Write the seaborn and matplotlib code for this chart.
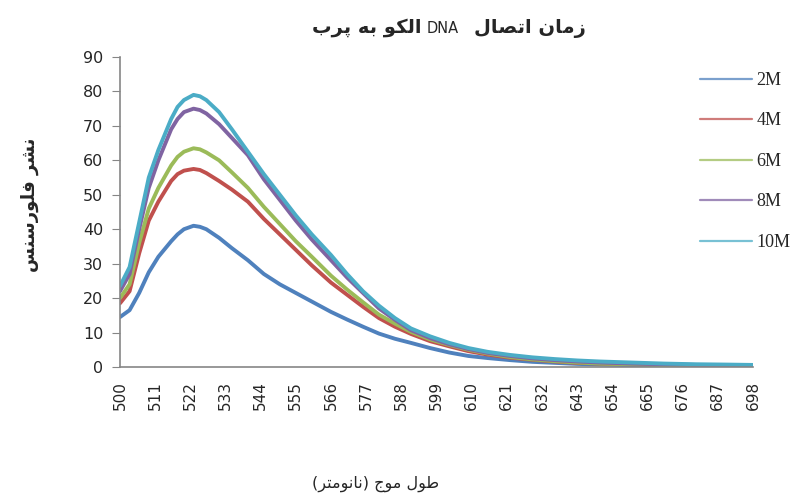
import re
import matplotlib
matplotlib.use("Agg")
import matplotlib.pyplot as plt
import seaborn as sns
import pandas as pd

wavelength = [500, 503, 506, 509, 512, 516, 518, 520, 523, 525, 527, 531, 535, 540, 545, 550,
              555, 560, 566, 571, 576, 581, 586, 591, 597, 603, 609, 615, 622, 629,
              636, 643, 650, 660, 670, 680, 690, 698]

m2 = [14.5, 16.5, 21.5, 27.5, 32, 36.5, 38.5, 40, 41, 40.7, 40, 37.5, 34.5, 31, 27, 24,
      21.5, 19, 16, 13.8, 11.7, 9.7, 8.2, 7, 5.5, 4.2, 3.2, 2.6, 2, 1.5,
      1.2, 0.9, 0.7, 0.5, 0.4, 0.3, 0.25, 0.2]
m4 = [18.5, 22, 33, 42.5, 48, 54, 56, 57, 57.5, 57.2, 56.3, 54, 51.5, 48, 43, 38.5,
      34, 29.5, 24.5, 21, 17.5, 14.2, 11.7, 9.6, 7.5, 6, 4.6, 3.6, 2.7, 2.1,
      1.6, 1.2, 1, 0.8, 0.6, 0.5, 0.4, 0.3]
m6 = [20, 24, 36, 46, 52, 58.5, 61, 62.5, 63.5, 63.2, 62.3, 60, 56.5, 52, 46.5, 41.5,
      36.5, 32, 26.5, 22.5, 18.8, 15.2, 12.6, 10.2, 8, 6.4, 5, 3.9, 2.9, 2.2,
      1.7, 1.3, 1.0, 0.8, 0.6, 0.5, 0.4, 0.3]
m8 = [22, 27, 40, 52, 60, 69, 72, 74, 75, 74.6, 73.6, 70.5, 66.5, 61.5, 54.5, 48.5,
      42.5, 37, 31, 26, 21.5, 17, 13.7, 10.7, 8.4, 6.6, 5.2, 4.1, 3.2, 2.5,
      2, 1.6, 1.3, 1, 0.8, 0.6, 0.5, 0.4]
m10 = [23.5, 29, 42, 55, 63, 72, 75.5, 77.5, 79, 78.6, 77.5, 74, 69, 62.5, 56, 50,
       44, 38.5, 32.5, 27, 22, 17.8, 14.2, 11.2, 8.9, 7, 5.5, 4.4, 3.5, 2.8,
       2.3, 1.9, 1.6, 1.3, 1.0, 0.8, 0.7, 0.6]

series_names = ["2M", "4M", "6M", "8M", "10M"]
series_values = [m2, m4, m6, m8, m10]
colors = ["#4F81BD", "#C0504D", "#9BBB59", "#8064A2", "#4BACC6"]
x_ticks = list(range(500, 699, 11))

title_right = "زمان اتصال"
title_mid = "DNA"
title_left = "الکو به پرب"
y_label = "نشر فلورسنس"
x_label = "طول موج (نانومتر)"

# matplotlib has no Arabic shaping, so pick contextual glyphs by hand
# (isolated, final, initial, medial); two entries = joins only to the right
FORMS = {
    "ا": ("\uFE8D", "\uFE8E"),
    "ب": ("\uFE8F", "\uFE90", "\uFE91", "\uFE92"),
    "پ": ("\uFB56", "\uFB57", "\uFB58", "\uFB59"),
    "ت": ("\uFE95", "\uFE96", "\uFE97", "\uFE98"),
    "ج": ("\uFE9D", "\uFE9E", "\uFE9F", "\uFEA0"),
    "ر": ("\uFEAD", "\uFEAE"),
    "ز": ("\uFEAF", "\uFEB0"),
    "س": ("\uFEB1", "\uFEB2", "\uFEB3", "\uFEB4"),
    "ش": ("\uFEB5", "\uFEB6", "\uFEB7", "\uFEB8"),
    "ص": ("\uFEB9", "\uFEBA", "\uFEBB", "\uFEBC"),
    "ط": ("\uFEC1", "\uFEC2", "\uFEC3", "\uFEC4"),
    "ف": ("\uFED1", "\uFED2", "\uFED3", "\uFED4"),
    "ک": ("\uFB8E", "\uFB8F", "\uFB90", "\uFB91"),
    "ل": ("\uFEDD", "\uFEDE", "\uFEDF", "\uFEE0"),
    "م": ("\uFEE1", "\uFEE2", "\uFEE3", "\uFEE4"),
    "ن": ("\uFEE5", "\uFEE6", "\uFEE7", "\uFEE8"),
    "ه": ("\uFEE9", "\uFEEA", "\uFEEB", "\uFEEC"),
    "و": ("\uFEED", "\uFEEE"),
}


def rtl(text):
    out = []
    for i, ch in enumerate(text):
        if ch not in FORMS:
            out.append(ch)
            continue
        prev = text[i - 1] if i > 0 else ""
        nxt = text[i + 1] if i + 1 < len(text) else ""
        f = FORMS[ch]
        jp = prev in FORMS and len(FORMS[prev]) == 4
        jn = nxt in FORMS and len(f) == 4
        if jp and jn:
            out.append(f[3])
        elif jp:
            out.append(f[1])
        elif jn:
            out.append(f[2])
        else:
            out.append(f[0])
    vis = "".join(out)[::-1]
    vis = vis.translate(str.maketrans("()", ")("))
    return re.sub(r"[A-Za-z0-9]+", lambda m: m.group(0)[::-1], vis)


rows = []
for name, vals in zip(series_names, series_values):
    for w, v in zip(wavelength, vals):
        rows.append({"wavelength": w, "value": v, "series": name})
df = pd.DataFrame(rows)

sns.set_style("white")
plt.rcParams["font.family"] = ["DejaVu Sans"]

fig = plt.figure(figsize=(8.02, 5.0), dpi=100)
ax = fig.add_axes([120 / 802, 1 - 367 / 500, 633 / 802, 310 / 500])

sns.lineplot(data=df, x="wavelength", y="value", hue="series",
             hue_order=series_names, palette=colors, linewidth=2.8, ax=ax)

ax.set_xlim(500, 698)
ax.set_ylim(0, 90)
ax.set_yticks(range(0, 91, 10))
ax.set_xticks(x_ticks)
ax.set_xticklabels([str(t) for t in x_ticks], rotation=90)
ax.tick_params(axis="y", labelsize=11.5, length=6, color="#868686", direction="out", left=True, pad=6)
ax.tick_params(axis="x", labelsize=11, length=0, pad=10)
for s in ["top", "right"]:
    ax.spines[s].set_visible(False)
for s in ["left", "bottom"]:
    ax.spines[s].set_color("#868686")
    ax.spines[s].set_linewidth(1.2)
ax.set_xlabel("")
ax.set_ylabel("")

leg = ax.legend(loc="upper left", bbox_to_anchor=(700 / 802, 1 - 72 / 500),
                bbox_transform=fig.transFigure, frameon=False,
                prop={"family": "Liberation Serif", "size": 13},
                borderpad=0, borderaxespad=0,
                labelspacing=1.3, handlelength=2.9, handletextpad=0.22)
for h in leg.get_lines():
    h.set_linewidth(1.6)
    h.set_alpha(0.75)

title_y = 1 - 33 / 500
fig.text(443 / 802, title_y, title_mid, ha="center", va="baseline", fontsize=10.5)
fig.text(474 / 802, title_y, rtl(title_right), ha="left", va="baseline",
         fontsize=14, fontweight="bold")
fig.text(421 / 802, title_y, rtl(title_left), ha="right", va="baseline",
         fontsize=14, fontweight="bold")
fig.text(30 / 802, 1 - 205 / 500, rtl(y_label), rotation=90, ha="center", va="center",
         fontsize=13, fontweight="bold")
fig.text(376 / 802, 1 - 484 / 500, rtl(x_label), ha="center", va="center", fontsize=11.5)

fig.savefig("out.png", dpi=100)
